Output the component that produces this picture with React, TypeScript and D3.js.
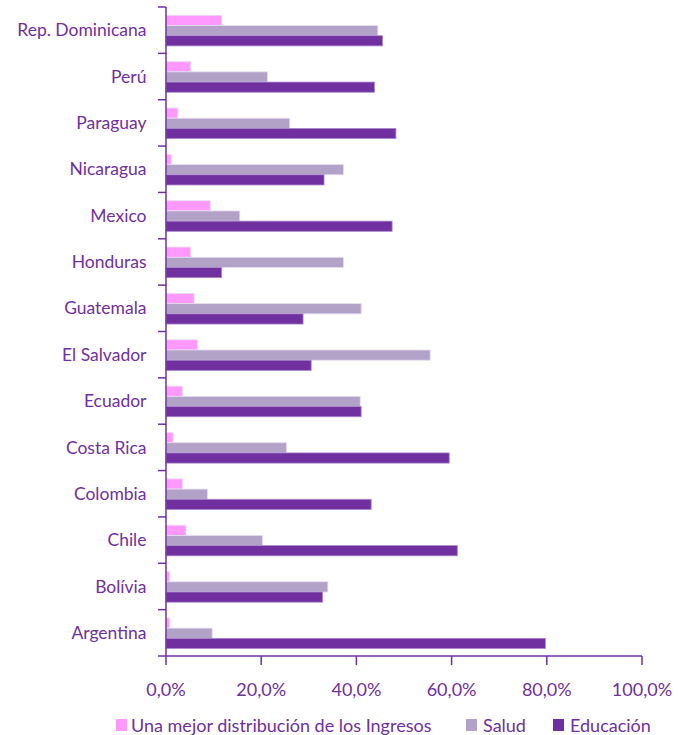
import React from "react";
import * as d3 from "d3";

const categories = ["Rep. Dominicana", "Perú", "Paraguay", "Nicaragua", "Mexico", "Honduras", "Guatemala", "El Salvador", "Ecuador", "Costa Rica", "Colombia", "Chile", "Bolívia", "Argentina"];
const ingresos = [11.7, 5.2, 2.5, 1.1, 9.3, 5.2, 5.9, 6.6, 3.5, 1.5, 3.5, 4.2, 0.8, 0.8];
const salud = [44.5, 21.3, 26.0, 37.3, 15.5, 37.3, 41.0, 55.5, 40.8, 25.3, 8.7, 20.3, 34.0, 9.7];
const educacion = [45.5, 43.8, 48.3, 33.2, 47.5, 11.7, 28.8, 30.5, 41.0, 59.5, 43.1, 61.2, 32.9, 79.7];
const xTicks = [0, 20, 40, 60, 80, 100];
const seriesNames = ["Una mejor distribución de los Ingresos", "Salud", "Educación"];
const seriesColors = ["#FF99FF", "#B3A2C7", "#7030A0"];

export default function App() {
  const W = 685, H = 735;
  const left = 166, right = 642, top = 7, bottom = 656;
  const x = d3.scaleLinear().domain([0, 100]).range([left, right]);
  const y = d3.scaleBand().domain(categories).range([top, bottom]);
  const inner = d3.scaleBand().domain(["0", "1", "2"]).range([8.3, 38.9]);
  const series = [ingresos, salud, educacion];
  const textColor = "#7030A0";
  const font = "Lato, 'Open Sans', sans-serif";
  const legendItems = [
    { x: 116, tx: 131, name: seriesNames[0], color: seriesColors[0] },
    { x: 466, tx: 483, name: seriesNames[1], color: seriesColors[1] },
    { x: 553, tx: 570, name: seriesNames[2], color: seriesColors[2] },
  ];
  const boundaries = d3.range(categories.length + 1).map((i) => top + i * y.step());
  return (
    <svg width={W} height={H} style={{ position: "absolute", left: 0, top: 0 }} fontFamily={font}>
      <rect width={W} height={H} fill="#fff" />
      {categories.map((c, i) => (
        <g key={c}>
          {series.map((s, k) => (
            <rect
              key={k}
              x={x(0)}
              y={(y(c) as number) + (inner(String(k)) as number)}
              width={x(s[i]) - x(0)}
              height={inner.bandwidth()}
              fill={seriesColors[k]}
              stroke={k === 2 ? "#A98ACB" : "#E6DDF0"}
              strokeWidth={0.8}
            />
          ))}
          <text
            x={146.5}
            y={(y(c) as number) + y.bandwidth() / 2}
            dy="0.35em"
            textAnchor="end"
            fontSize={17.5}
            fill={textColor}
          >
            {c}
          </text>
        </g>
      ))}
      {/* y axis */}
      <line x1={left} x2={left} y1={top} y2={bottom} stroke={textColor} strokeWidth={1.5} />
      {boundaries.map((b, i) => (
        <line key={i} x1={158} x2={left} y1={b} y2={b} stroke={textColor} strokeWidth={1.5} />
      ))}
      {/* x axis */}
      <line x1={left} x2={right} y1={bottom} y2={bottom} stroke={textColor} strokeWidth={1.5} />
      {xTicks.map((t) => (
        <g key={t}>
          <line x1={x(t)} x2={x(t)} y1={bottom} y2={bottom + 9} stroke={textColor} strokeWidth={1.5} />
          <text x={x(t)} y={696} textAnchor="middle" fontSize={18} fill={textColor}>
            {t.toFixed(1).replace(".", ",") + "%"}
          </text>
        </g>
      ))}
      {/* legend */}
      {legendItems.map((l) => (
        <g key={l.name}>
          <rect x={l.x} y={719} width={11} height={12} fill={l.color} />
          <text x={l.tx} y={732} fontSize={18} fill={textColor}>
            {l.name}
          </text>
        </g>
      ))}
    </svg>
  );
}
